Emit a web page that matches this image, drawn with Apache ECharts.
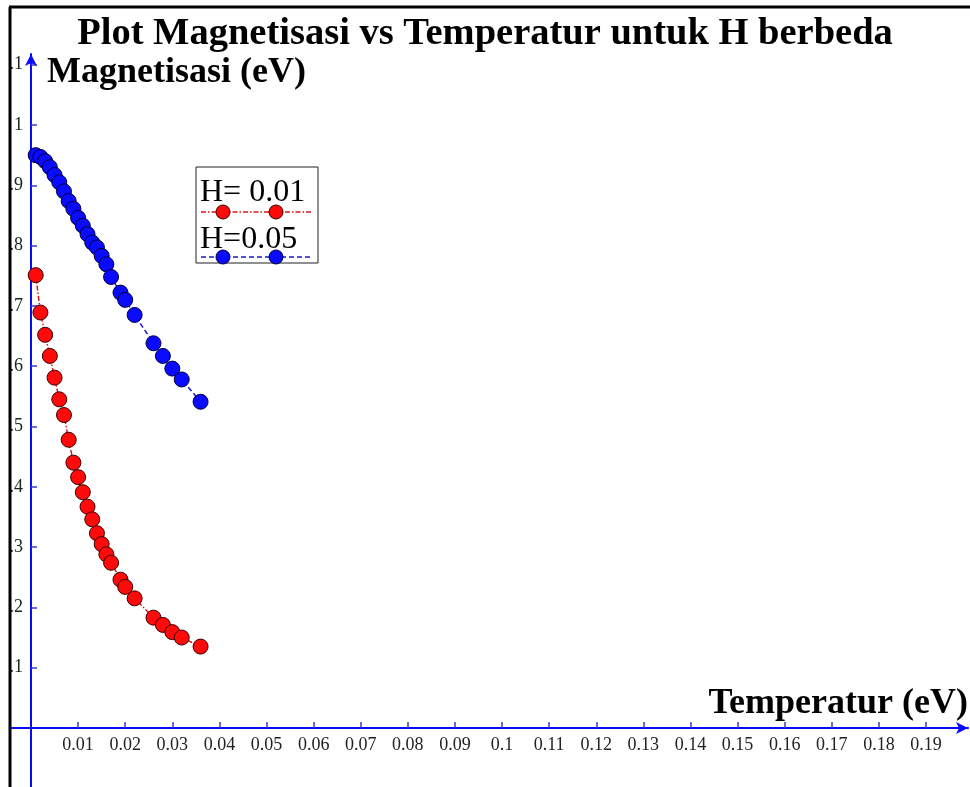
<!DOCTYPE html>
<html>
<head>
<meta charset="utf-8">
<script src="https://cdn.jsdelivr.net/npm/echarts@6/dist/echarts.min.js"></script>
<style>
html,body{margin:0;padding:0;background:#fff;}
#chart{width:970px;height:787px;}
</style>
</head>
<body>
<div id="chart"></div>
<script>
// ---- data ----
var titleText = 'Plot Magnetisasi vs Temperatur untuk H berbeda';
var xAxisName = 'Temperatur (eV)';
var yAxisName = 'Magnetisasi (eV)';
var seriesNames = ['H= 0.01', 'H=0.05'];
var temperatures = [0.001,0.002,0.003,0.004,0.005,0.006,0.007,0.008,0.009,0.010,0.011,0.012,0.013,0.014,0.015,0.016,0.017,0.019,0.020,0.022,0.026,0.028,0.030,0.032,0.036];
var magH001 = [0.751,0.689,0.652,0.617,0.581,0.545,0.519,0.478,0.440,0.416,0.391,0.367,0.346,0.323,0.305,0.288,0.274,0.246,0.234,0.215,0.183,0.171,0.159,0.150,0.135];
var magH005 = [0.950,0.947,0.940,0.930,0.917,0.905,0.890,0.874,0.861,0.846,0.833,0.819,0.805,0.797,0.783,0.769,0.748,0.722,0.710,0.685,0.638,0.617,0.596,0.578,0.541];
var xTicks = [0.01,0.02,0.03,0.04,0.05,0.06,0.07,0.08,0.09,0.1,0.11,0.12,0.13,0.14,0.15,0.16,0.17,0.18,0.19];
var yTicks = [0.1,0.2,0.3,0.4,0.5,0.6,0.7,0.8,0.9,1,1.1];

var serif = '"Liberation Serif", "Times New Roman", serif';
var axisBlue = '#0a0aff';
var tickBlue = '#3a3acc';

function pairs(xs, ys){ return xs.map(function(x,i){ return [x, ys[i]]; }); }

var chart = echarts.init(document.getElementById('chart'));
var option = {
  backgroundColor: '#ffffff',
  animation: false,
  title: {
    text: titleText,
    left: 'center',
    top: 10,
    textStyle: {fontFamily: serif, fontSize: 38.5, fontWeight: 'bold', color: '#000'}
  },
  grid: {left: 31, right: 2, top: 54, bottom: 59, containLabel: false, outerBoundsMode: 'none'},
  xAxis: {
    type: 'value',
    min: 0,
    max: 0.19892,
    name: xAxisName,
    nameLocation: 'end',
    nameGap: 0,
    nameMoveOverlap: false,
    nameTextStyle: {fontFamily: serif, fontSize: 36, fontWeight: 'bold', color: '#000', align: 'right', verticalAlign: 'bottom', padding: [0,0,6,0]},
    axisLine: {onZero: false, symbol: ['none','arrow'], symbolSize: [9,12], lineStyle: {color: axisBlue, width: 2}},
    axisTick: {inside: true, length: 6, customValues: xTicks, lineStyle: {color: tickBlue, width: 1.5}},
    axisLabel: {customValues: xTicks, margin: 8, fontFamily: serif, fontSize: 18, color: '#222',
      formatter: function(v){ return String(+v.toFixed(2)); }},
    splitLine: {show: false}
  },
  yAxis: {
    type: 'value',
    min: 0,
    max: 1.1177,
    name: yAxisName,
    nameLocation: 'end',
    nameGap: -1,
    nameMoveOverlap: false,
    nameTextStyle: {fontFamily: serif, fontSize: 36, fontWeight: 'bold', color: '#000', align: 'left', verticalAlign: 'top', padding: [0,0,0,16]},
    axisLine: {onZero: false, symbol: ['none','arrow'], symbolSize: [9,12], lineStyle: {color: axisBlue, width: 2}},
    axisTick: {inside: true, length: 6, customValues: yTicks, lineStyle: {color: tickBlue, width: 1.5}},
    axisLabel: {customValues: yTicks, margin: 8, fontFamily: serif, fontSize: 18, color: '#222',
      formatter: function(v){ return String(+v.toFixed(2)); }},
    splitLine: {show: false}
  },
  series: [
    {
      name: seriesNames[0], type: 'line', data: pairs(temperatures, magH001),
      symbol: 'circle', symbolSize: 15, showSymbol: true, z: 3, clip: false,
      itemStyle: {color: '#ff0a0a', borderColor: '#3a0000', borderWidth: 1},
      lineStyle: {color: '#d81818', width: 1.5, type: [5,2,1.5,2]}
    },
    {
      name: seriesNames[1], type: 'line', data: pairs(temperatures, magH005),
      symbol: 'circle', symbolSize: 15, showSymbol: true, z: 3, clip: false,
      itemStyle: {color: '#0a0aff', borderColor: '#00003a', borderWidth: 1},
      lineStyle: {color: '#1a1acc', width: 1.5, type: [5,3]}
    }
  ],
  graphic: [
    // axis lines continuing past the origin
    {type: 'line', z: 50, shape: {x1: 10, y1: 728, x2: 31, y2: 728}, style: {stroke: axisBlue, lineWidth: 2}},
    {type: 'line', z: 50, shape: {x1: 31, y1: 728, x2: 31, y2: 787}, style: {stroke: axisBlue, lineWidth: 2}},
    // legend box
    {type: 'rect', z: 100, shape: {x: 196, y: 167, width: 122, height: 96},
      style: {fill: '#fff', stroke: '#222', lineWidth: 1}},
    {type: 'text', z: 101, style: {text: seriesNames[0], x: 200, y: 193, font: '32px ' + serif, fill: '#000', textVerticalAlign: 'middle'}},
    {type: 'line', z: 101, shape: {x1: 201, y1: 212, x2: 313, y2: 212},
      style: {stroke: '#d81818', lineWidth: 1.5, lineDash: [5,2,1.5,2]}},
    {type: 'circle', z: 102, shape: {cx: 223, cy: 212, r: 7}, style: {fill: '#ff0a0a', stroke: '#3a0000', lineWidth: 1}},
    {type: 'circle', z: 102, shape: {cx: 276, cy: 212, r: 7}, style: {fill: '#ff0a0a', stroke: '#3a0000', lineWidth: 1}},
    {type: 'text', z: 101, style: {text: seriesNames[1], x: 200, y: 240, font: '32px ' + serif, fill: '#000', textVerticalAlign: 'middle'}},
    {type: 'line', z: 101, shape: {x1: 201, y1: 257, x2: 313, y2: 257},
      style: {stroke: '#1a1acc', lineWidth: 1.5, lineDash: [5,3]}},
    {type: 'circle', z: 102, shape: {cx: 223, cy: 257, r: 7}, style: {fill: '#0a0aff', stroke: '#00003a', lineWidth: 1}},
    {type: 'circle', z: 102, shape: {cx: 276, cy: 257, r: 7}, style: {fill: '#0a0aff', stroke: '#00003a', lineWidth: 1}},
    // frame of the original picture
    {type: 'rect', z: 110, shape: {x: 0, y: 0, width: 9, height: 787}, style: {fill: '#fff'}},
    {type: 'line', z: 111, shape: {x1: 10, y1: 7, x2: 10, y2: 787}, style: {stroke: '#000', lineWidth: 3}},
    {type: 'line', z: 111, shape: {x1: 9, y1: 7, x2: 970, y2: 7}, style: {stroke: '#000', lineWidth: 3}}
  ]
};
chart.setOption(option);
</script>
</body>
</html>
